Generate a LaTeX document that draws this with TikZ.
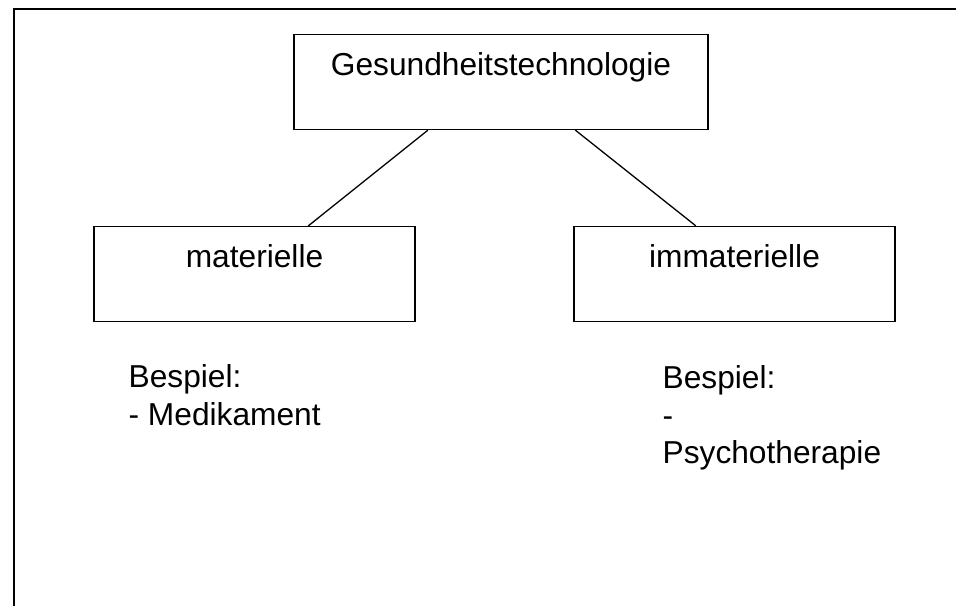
\documentclass[tikz,border=0pt]{standalone}
\usepackage{fontspec}
\setmainfont{Liberation Sans}
\usetikzlibrary{
	positioning,
	calc
}
\tikzset{
	x=1pt,
	y=-1pt,
	box/.style={
		draw,
		line width=1.3pt,
		inner sep=0pt,
		text height=41pt,
		text depth=54pt
	},
	note/.style={
		align=left,
		inner sep=0pt,
		anchor=north west
	},
	every node/.append style={
		font=\fontsize{31.7}{37.5}\selectfont
	}
}

\begin{document}
\begin{tikzpicture}
		\useasboundingbox (0,0) rectangle (956,606);
		\draw[line width=2pt] (956,9) -| (13.5,606);

		\draw[line width=1.3pt]
			node[box,minimum width=414pt] (gt)    at (501,82)    {Gesundheitstechnologie}
			node[box,minimum width=321pt] (mat)   at (254.5,274) {materielle}
			node[box,minimum width=321pt] (immat) at (734.5,274) {immaterielle}

			node[note] (matex)   at (128,364) {Bespiel:\\- Medikament}
			node[note] (immatex) at (662,365) {Bespiel:\\-\\Psychotherapie}

			($(gt.south west)!0.324!(gt.south east)$) -- ($(mat.north west)!0.667!(mat.north east)$)
			($(gt.south west)!0.679!(gt.south east)$) -- ($(immat.north west)!0.38!(immat.north east)$)
		;
	\end{tikzpicture}
\end{document}
